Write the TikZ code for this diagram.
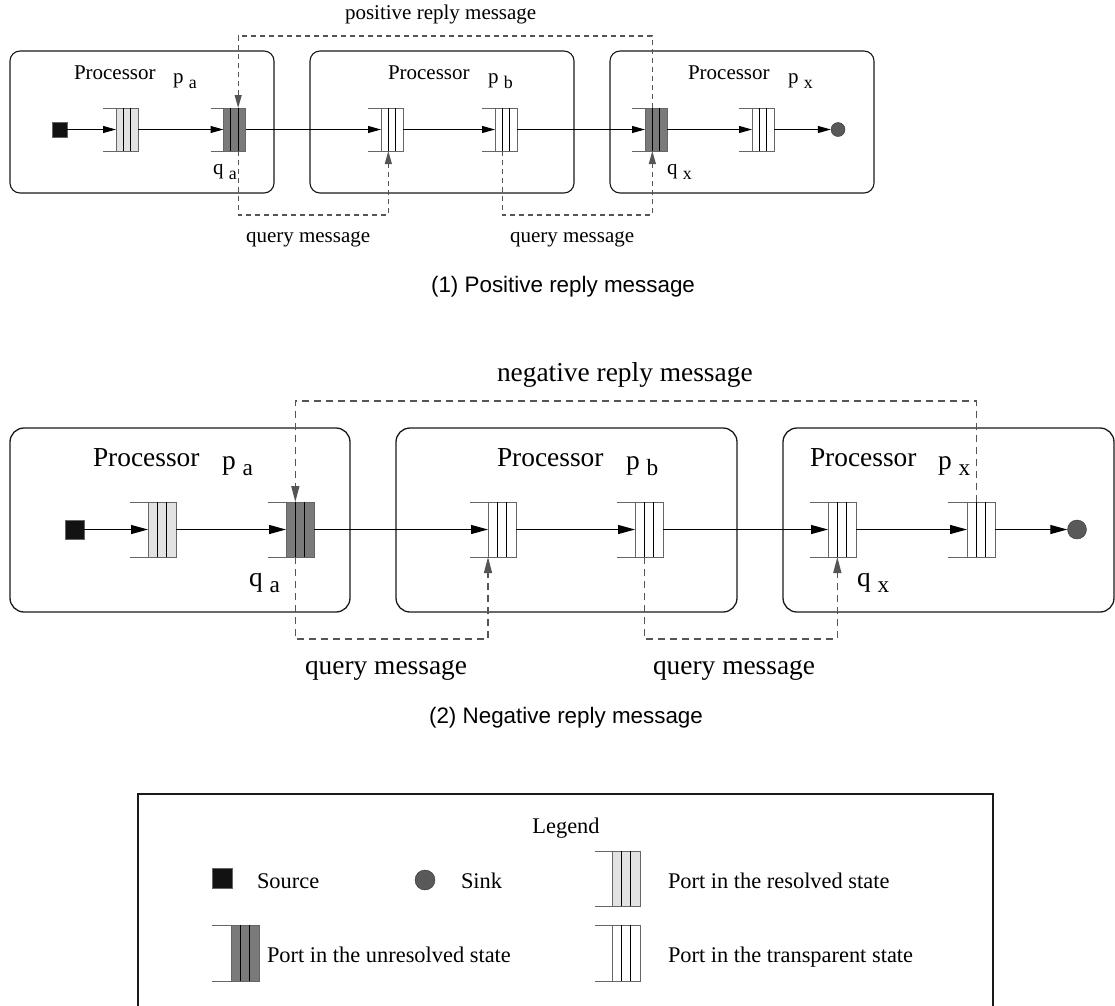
\documentclass[tikz,border=0pt]{standalone}
\usepackage{fontspec}
\usepackage{graphicx}
\setmainfont{Liberation Serif}
\newfontfamily\capsans{Liberation Sans}
\usetikzlibrary{arrows.meta,calc}

% font sizes of the two diagrams, the legend and the captions
\newcommand\topfont{\fontsize{21pt}{24pt}\selectfont}
\newcommand\botfont{\fontsize{27.4pt}{31pt}\selectfont}
\newcommand\legfont{\fontsize{22.4pt}{26pt}\selectfont}
\newcommand\capfont{\capsans\fontsize{22.4pt}{26pt}\selectfont}

% letter with a lowered, smaller index: p a
\newcommand\lowidx[3]{#1\hspace{0.25em}\raisebox{#3}{\scalebox{0.85}{#2}}}

\definecolor{resolvedfill}{HTML}{E2E2E2}
\definecolor{unresolvedfill}{HTML}{7A7A7A}
\definecolor{msggray}{HTML}{555555}
\definecolor{sinkfill}{HTML}{595959}

% port: #1 name, #2 open left x, #3 cell left x, #4 right x, #5 top y, #6 bottom y, #7 fill
\newcommand\drawport[7]{%
  \node[portcell, fill=#7, minimum width={(#4-#3)*1pt}, minimum height={(#6-#5)*1pt}] (#1) at (#3,#5) {};
  \draw[portline] (#1.north west) -- (#2,#5) (#1.south west) -- (#2,#6);
  \draw[portdiv] ($(#1.north west)!1/3!(#1.north east)$) -- ($(#1.south west)!1/3!(#1.south east)$)
                 ($(#1.north west)!2/3!(#1.north east)$) -- ($(#1.south west)!2/3!(#1.south east)$);
}

\begin{document}
\begin{tikzpicture}[x=1pt,y=-1pt,
  procbox/.style={draw=black!90, rounded corners=#1, inner sep=0pt, outer sep=0pt, anchor=north west},
  portcell/.style={draw=black!60, inner sep=0pt, outer sep=0pt, anchor=north west, line width=0.9pt},
  portline/.style={draw=black!60, line width=0.9pt},
  portdiv/.style={draw=black, line width=0.9pt},
  lbl/.style={anchor=base west, inner sep=0pt, outer sep=0pt},
  srcsq/.style={draw=black!60, fill=black!93, inner sep=0pt, minimum size=#1},
  sinkdot/.style={circle, draw=black!80, fill=sinkfill, inner sep=0pt, minimum size=#1},
  flow/.style={draw=black, line width=#1},
  msg/.style={draw=msggray, line width=1.1pt},
]
\useasboundingbox (0,0) rectangle (1115,1005);
\clip (0,0) rectangle (1115,1005);

% ---------------- (1) positive reply ----------------
\begin{scope}[font=\topfont,
  tarrow/.style={-{Triangle[length=13pt,width=7pt]}},
  tmarrow/.style={-{Triangle[length=13pt,width=7pt]}, dash pattern=on 5pt off 4pt}]
  \node[procbox=10pt, minimum width=264pt, minimum height=142pt, line width=1.1pt] (tpa) at (10,51) {};
  \node[procbox=10pt, minimum width=264pt, minimum height=142pt, line width=1.1pt] (tpb) at (310,51) {};
  \node[procbox=10pt, minimum width=264pt, minimum height=142pt, line width=1.1pt] (tpx) at (610,51) {};

  \node[lbl] (tla) at (74,79) {Processor};
  \node[lbl] (tia) at (173,83) {\lowidx{p}{a}{-5pt}};
  \node[lbl] (tlb) at (388,79) {Processor};
  \node[lbl] (tib) at (488,83) {\lowidx{p}{b}{-5pt}};
  \node[lbl] (tlx) at (688,79) {Processor};
  \node[lbl] (tix) at (788,83) {\lowidx{p}{x}{-5pt}};

  \node[srcsq=15pt] (tsrc) at (59.5,129.5) {};
  \drawport{ta1}{103}{116}{138}{108}{151}{resolvedfill}
  \drawport{ta2}{210.5}{223.5}{245.5}{108}{151}{unresolvedfill}
  \drawport{tb1}{368}{381}{403}{108}{151}{white}
  \drawport{tb2}{482}{495}{517}{108}{151}{white}
  \drawport{tx1}{632}{645}{667}{108}{151}{unresolvedfill}
  \drawport{tx2}{739}{752}{774}{108}{151}{white}
  \node[sinkdot=14pt] (tsnk) at (838,129.5) {};

  \draw[flow=1pt, tarrow] (tsrc) -- (ta1.west);
  \draw[flow=1pt, tarrow] (ta1.east) -- (ta2.west);
  \draw[flow=1pt, tarrow] (ta2.east) -- (tb1.west);
  \draw[flow=1pt, tarrow] (tb1.east) -- (tb2.west);
  \draw[flow=1pt, tarrow] (tb2.east) -- (tx1.west);
  \draw[flow=1pt, tarrow] (tx1.east) -- (tx2.west);
  \draw[flow=1pt, tarrow] (tx2.east) -- (tsnk);

  \node[lbl] (tqa) at (213,174) {\lowidx{q}{a}{-5pt}};
  \node[lbl] (tqx) at (667,174) {\lowidx{q}{x}{-5pt}};

  % reply from q_x back to q_a, queries forwarded downstream
  \draw[msg, tmarrow] ($(tx1.north west)!1/3!(tx1.north east)$) -- ++(0,-72) -| ($(ta2.north west)!2/3!(ta2.north east)$);
  \draw[msg, tmarrow] ($(ta2.south west)!2/3!(ta2.south east)$) -- ++(0,64) -| ($(tb1.south west)!1/3!(tb1.south east)$);
  \draw[msg, tmarrow] ($(tb2.south west)!1/3!(tb2.south east)$) -- ++(0,64) -| ($(tx1.south west)!1/3!(tx1.south east)$);

  \node[lbl] (tpos) at (345,19) {positive reply message};
  \node[lbl] (tq1) at (246,242) {query message};
  \node[lbl] (tq2) at (510,242) {query message};
\end{scope}

\node[anchor=base, inner sep=0pt] (cap1) at (563,292) {\capfont (1) Positive reply message};

% ---------------- (2) negative reply ----------------
\begin{scope}[font=\botfont,
  barrow/.style={-{Triangle[length=17pt,width=9pt]}},
  bmarrow/.style={-{Triangle[length=16pt,width=8pt]}, dash pattern=on 7pt off 5pt}]
  \node[procbox=14pt, minimum width=340pt, minimum height=184pt, line width=1.3pt] (bpa) at (10,428) {};
  \node[procbox=14pt, minimum width=341pt, minimum height=184pt, line width=1.3pt] (bpb) at (396,428) {};
  \node[procbox=14pt, minimum width=331pt, minimum height=184pt, line width=1.3pt] (bpx) at (783,428) {};

  \node[lbl] (bla) at (93,466) {Processor};
  \node[lbl] (bia) at (222,469) {\lowidx{p}{a}{-6pt}};
  \node[lbl] (blb) at (497,466) {Processor};
  \node[lbl] (bib) at (626,469) {\lowidx{p}{b}{-6pt}};
  \node[lbl] (blx) at (810,466) {Processor};
  \node[lbl] (bix) at (938,469) {\lowidx{p}{x}{-6pt}};

  \node[srcsq=19pt] (bsrc) at (74.5,529.5) {};
  \drawport{ba1}{130}{148}{176}{502}{557}{resolvedfill}
  \drawport{ba2}{268}{286}{314}{502}{557}{unresolvedfill}
  \drawport{bb1}{470}{488}{516}{502}{557}{white}
  \drawport{bb2}{617}{635}{663}{502}{557}{white}
  \drawport{bx1}{810}{828}{856}{502}{557}{white}
  \drawport{bx2}{948}{967}{995}{502}{557}{white}
  \node[sinkdot=19pt] (bsnk) at (1077,529.5) {};

  \draw[flow=1.2pt, barrow] (bsrc) -- (ba1.west);
  \draw[flow=1.2pt, barrow] (ba1.east) -- (ba2.west);
  \draw[flow=1.2pt, barrow] (ba2.east) -- (bb1.west);
  \draw[flow=1.2pt, barrow] (bb1.east) -- (bb2.west);
  \draw[flow=1.2pt, barrow] (bb2.east) -- (bx1.west);
  \draw[flow=1.2pt, barrow] (bx1.east) -- (bx2.west);
  \draw[flow=1.2pt, barrow] (bx2.east) -- (bsnk);

  \node[lbl] (bqa) at (249,586) {\lowidx{q}{a}{-6pt}};
  \node[lbl] (bqx) at (857,586) {\lowidx{q}{x}{-6pt}};

  \draw[msg, line width=1.3pt, bmarrow] ($(bx2.north west)!1/3!(bx2.north east)$) -- ++(0,-101) -| ($(ba2.north west)!1/3!(ba2.north east)$);
  \draw[msg, line width=1.3pt, bmarrow] ($(ba2.south west)!1/3!(ba2.south east)$) -- ++(0,82) -| (bb1.south west);
  \draw[msg, line width=1.3pt, bmarrow] ($(bb2.south west)!1/3!(bb2.south east)$) -- ++(0,82) -| ($(bx1.south west)!1/3!(bx1.south east)$);

  \node[lbl] (bneg) at (497,381) {negative reply message};
  \node[lbl] (bq1) at (305,674) {query message};
  \node[lbl] (bq2) at (653,674) {query message};
\end{scope}

\node[anchor=base, inner sep=0pt] (cap2) at (566,723) {\capfont (2) Negative reply message};

% ---------------- legend ----------------
\begin{scope}[font=\legfont]
  \node[procbox=0pt, minimum width=855pt, minimum height=220pt, line width=1.1pt] (legbox) at (138,794) {};
  \node[anchor=base, inner sep=0pt] (legtitle) at (566,833) {Legend};

  \node[srcsq=20pt] (lsrc) at (222,878) {};
  \node[lbl] (lsrct) at (257,888) {Source};
  \node[sinkdot=20pt] (lsnk) at (425,880) {};
  \node[lbl] (lsnkt) at (461,888) {Sink};

  \drawport{lres}{595}{612}{640}{851}{906}{resolvedfill}
  \node[lbl] (lrest) at (668,888) {Port in the resolved state};
  \drawport{lunr}{212}{231}{259}{925}{981}{unresolvedfill}
  \node[lbl] (lunrt) at (267,962) {Port in the unresolved state};
  \drawport{ltra}{595}{612}{640}{925}{981}{white}
  \node[lbl] (ltrat) at (668,962) {Port in the transparent state};
\end{scope}
\end{tikzpicture}
\end{document}
